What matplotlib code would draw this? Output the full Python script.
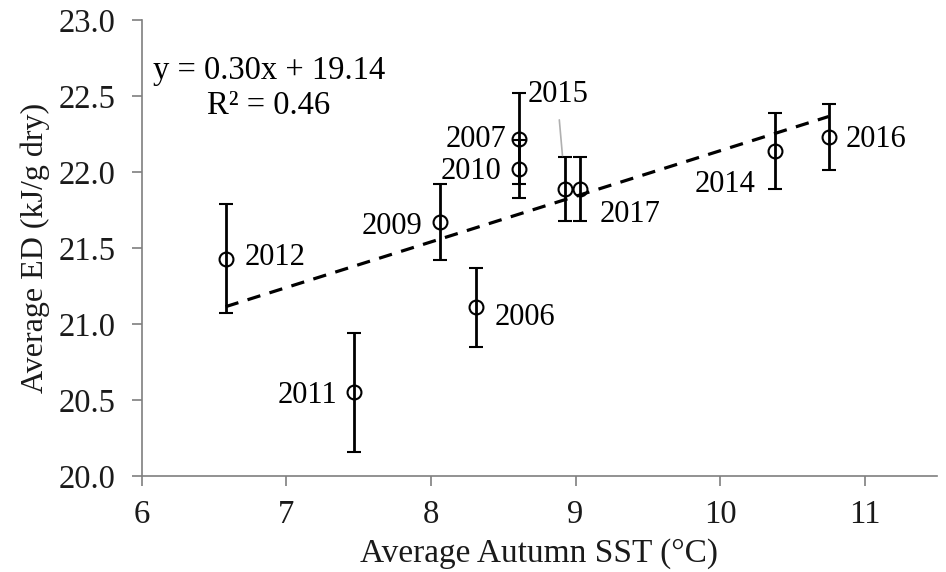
import matplotlib
matplotlib.use("Agg")
import matplotlib.pyplot as plt
import numpy as np

plt.rcParams['font.family'] = ['Liberation Serif', 'DejaVu Serif']

# Autumn sea-surface temperature vs. energy density by year
years = ["2012", "2011", "2009", "2006", "2007", "2010", "2015", "2017", "2014", "2016"]
sst = [6.58, 7.47, 8.06, 8.31, 8.61, 8.61, 8.93, 9.03, 10.38, 10.75]
ed = [21.43, 20.55, 21.67, 21.11, 22.22, 22.02, 21.89, 21.89, 22.14, 22.23]
ed_err = [0.36, 0.39, 0.25, 0.26, 0.30, 0.19, 0.21, 0.21, 0.25, 0.22]

slope = 0.30
intercept = 19.14
r_squared = 0.46

x_ticks = [6, 7, 8, 9, 10, 11]
y_ticks = [20.0, 20.5, 21.0, 21.5, 22.0, 22.5, 23.0]

fig = plt.figure(figsize=(9.46, 5.72), dpi=100)
ax = fig.add_axes([0.1498, 0.1678, 0.8407, 0.7972])

# trend line across the observed SST range
xl = np.array([min(sst), max(sst)])
ax.plot(xl, slope * xl + intercept, color="black", lw=2.3, ls=(0, (4.2, 3.0)), zorder=2)

ax.errorbar(sst, ed, yerr=ed_err, fmt="o", mfc="none", mec="black", mew=1.5,
            ms=10, ecolor="black", elinewidth=2.0, capsize=5, capthick=2.0,
            color="black", zorder=3)

# year labels: (dx, dy) offsets in points, alignment
label_pos = {
    "2012": (13.5, 1, "left", "center"),
    "2011": (-12.5, -2, "right", "center"),
    "2009": (-12.5, -3, "right", "center"),
    "2006": (13.5, -7, "left", "center"),
    "2007": (-9, -1, "right", "center"),
    "2010": (-13, -2, "right", "center"),
    "2017": (14.5, -18.5, "left", "center"),
    "2014": (-14, -24.5, "right", "center"),
    "2016": (12, -1.5, "left", "center"),
}
for yr, x, y in zip(years, sst, ed):
    if yr in label_pos:
        dx, dy, ha, va = label_pos[yr]
        ax.annotate(yr, (x, y), xytext=(dx, dy), textcoords="offset points",
                    ha=ha, va=va, fontsize=22)

# 2015 label with a leader line
i15 = years.index("2015")
ax.annotate("2015", (sst[i15], ed[i15]), xytext=(-27, 68), textcoords="offset points",
            ha="left", va="center", fontsize=22,
            arrowprops=dict(arrowstyle="-", color="#b0b0b0", lw=1.2,
                            relpos=(0.5, 0.0), shrinkA=6, shrinkB=24))

ax.text(0.160, 0.888, f"y = {slope:.2f}x + {intercept:.2f}", transform=ax.transAxes,
        ha="center", va="center", fontsize=23.5)
ax.text(0.160, 0.811, f"R² = {r_squared:.2f}", transform=ax.transAxes,
        ha="center", va="center", fontsize=23.5)

ax.set_xlim(6, 11.5)
ax.set_ylim(20, 23)
ax.set_xticks(x_ticks)
ax.set_yticks(y_ticks)
ax.set_yticklabels([f"{v:.1f}" for v in y_ticks])

for s in ["top", "right"]:
    ax.spines[s].set_visible(False)
for s in ["left", "bottom"]:
    ax.spines[s].set_color("#7f7f7f")
    ax.spines[s].set_linewidth(1.2)
ax.tick_params(axis="both", direction="out", length=7, width=1.2, color="#7f7f7f",
               labelsize=23.5, labelcolor="#1a1a1a")
ax.tick_params(axis="y", pad=12)
ax.tick_params(axis="x", pad=10)

ax.set_xlabel("Average Autumn SST (°C)", fontsize=24, color="#1a1a1a", labelpad=6)
ax.set_ylabel("Average ED (kJ/g dry)", fontsize=23, color="#1a1a1a", labelpad=6)

fig.savefig("out.png", dpi=100)
